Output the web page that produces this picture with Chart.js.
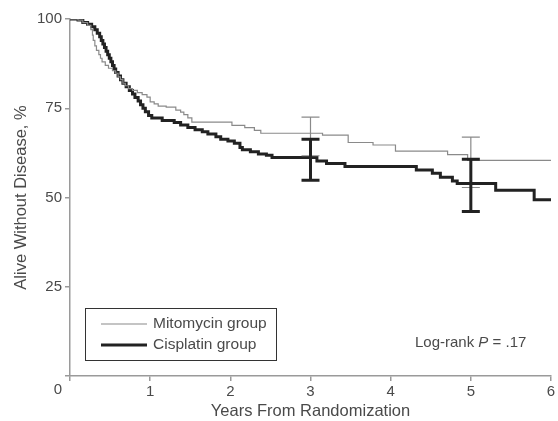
<!DOCTYPE html>
<html>
<head>
<meta charset="utf-8">
<script src="https://cdn.jsdelivr.net/npm/chart.js@4"></script>
<style>
  body { margin: 0; background: #fff; }
  canvas { display: block; }
</style>
</head>
<body>
<canvas id="grafico" width="558" height="421"></canvas>
<script>
// Kaplan-Meier estimates: years from randomization and % alive without disease
const mitoTimes = [0, 0.1, 0.16, 0.22, 0.26, 0.28, 0.29, 0.31, 0.33, 0.36, 0.38, 0.40, 0.44, 0.48, 0.53,
  0.57, 0.60, 0.63, 0.66, 0.69, 0.73, 0.78, 0.84, 0.90, 0.96, 1.0, 1.05, 1.1, 1.2, 1.32,
  1.38, 1.42, 1.47, 1.52, 2.02, 2.18, 2.3, 2.38, 3.15, 3.47, 3.78, 4.06, 4.71, 4.96, 6.0];
const mitoSurv = [100, 99.7, 99, 98.2, 97, 95.5, 94, 92.5, 91.2, 90, 89, 88, 87, 86.2, 85.5,
  84.8, 83.8, 83, 82, 81.3, 80.5, 80, 79.4, 78.8, 78.1, 76.8, 76.2, 75.6, 75.3, 74.5,
  73.9, 73.2, 72.3, 71.1, 70.2, 69.6, 68.8, 68.0, 67.5, 65.4, 64.7, 63.0, 62.0, 60.4, 60.4];

const cisTimes = [0, 0.1, 0.16, 0.22, 0.27, 0.31, 0.34, 0.37, 0.39, 0.41, 0.43, 0.45, 0.47, 0.49, 0.51,
  0.53, 0.55, 0.57, 0.60, 0.63, 0.66, 0.70, 0.74, 0.78, 0.81, 0.85, 0.88, 0.91, 0.94, 0.98,
  1.02, 1.15, 1.3, 1.38, 1.47, 1.56, 1.65, 1.72, 1.82, 1.88, 1.97, 2.05, 2.12, 2.15, 2.25,
  2.35, 2.45, 2.52, 3.08, 3.2, 3.43, 4.32, 4.52, 4.62, 4.77, 4.83, 5.31, 5.79, 6.0];
const cisSurv = [100, 99.7, 99, 98.5, 97.8, 97, 96, 95, 94, 93, 92, 91, 90, 89, 88,
  87, 86, 85, 84, 83, 82, 81, 80, 79, 78, 77, 76, 75, 74, 73,
  72.3, 71.6, 71, 70.3, 69.6, 69, 68.4, 67.8, 67, 66.3, 65.8, 65.2, 64, 63.4, 62.8,
  62.2, 61.8, 61.2, 60.2, 59.5, 58.7, 57.7, 56.8, 55.7, 54.6, 53.9, 52, 49.4, 49.4];

// 95% confidence intervals at 3 and 5 years
const ciYears = [3, 5];
const mitoLower = [61.7, 52.8];
const mitoUpper = [72.5, 66.9];
const cisLower = [54.8, 46.1];
const cisUpper = [66.3, 60.7];

const xTicks = [0, 1, 2, 3, 4, 5, 6];
const yTicks = [0, 25, 50, 75, 100];

const textColor = '#4a4a4a';
const axisColor = '#9a9a9a';
const thinColor = '#8a8a8a';
const thickColor = '#222222';
const fontFamily = '"Liberation Sans", Arial, sans-serif';

Chart.defaults.font.family = fontFamily;
Chart.defaults.color = textColor;

function toPoints(times, values) {
  return times.map((t, i) => ({ x: t, y: values[i] }));
}

// Error bars, legend box and the log-rank note
const extras = {
  id: 'extras',
  afterDatasetsDraw(chart) {
    const { ctx, scales: { x, y } } = chart;
    const groups = [
      { lower: mitoLower, upper: mitoUpper, color: thinColor, width: 1.2 },
      { lower: cisLower, upper: cisUpper, color: thickColor, width: 3 }
    ];
    ctx.save();
    groups.forEach(g => {
      ctx.strokeStyle = g.color;
      ctx.lineWidth = g.width;
      ciYears.forEach((yr, i) => {
        const px = x.getPixelForValue(yr);
        const lo = y.getPixelForValue(g.lower[i]);
        const hi = y.getPixelForValue(g.upper[i]);
        ctx.beginPath();
        ctx.moveTo(px, lo);
        ctx.lineTo(px, hi);
        ctx.moveTo(px - 9, lo);
        ctx.lineTo(px + 9, lo);
        ctx.moveTo(px - 9, hi);
        ctx.lineTo(px + 9, hi);
        ctx.stroke();
      });
    });
    ctx.restore();
  },
  afterDraw(chart) {
    const { ctx, chartArea, scales: { x } } = chart;
    ctx.save();
    ctx.font = '15px ' + fontFamily;
    ctx.fillStyle = textColor;

    // origin label, pushed left of the y axis
    ctx.textAlign = 'center';
    ctx.textBaseline = 'middle';
    ctx.fillText('0', x.getPixelForValue(0) - 12, chartArea.bottom + 14);

    // legend
    const bx = chartArea.left + 15;
    const by = chartArea.bottom - 68;
    ctx.strokeStyle = '#333';
    ctx.lineWidth = 1;
    ctx.strokeRect(bx + 0.5, by + 0.5, 191, 52);
    ctx.textAlign = 'left';
    ctx.font = '15.5px ' + fontFamily;
    chart.data.datasets.forEach((ds, i) => {
      const ly = by + 16 + i * 21;
      ctx.strokeStyle = ds.borderColor;
      ctx.lineWidth = ds.borderWidth;
      ctx.beginPath();
      ctx.moveTo(bx + 16, ly);
      ctx.lineTo(bx + 62, ly);
      ctx.stroke();
      ctx.fillText(ds.label, bx + 68, ly);
    });

    // log-rank test
    let tx = chartArea.right - 136;
    const ty = chartArea.bottom - 33;
    const parts = [['Log-rank ', ''], ['P', 'italic '], [' = .17', '']];
    parts.forEach(([txt, style]) => {
      ctx.font = style + '15px ' + fontFamily;
      ctx.fillText(txt, tx, ty);
      tx += ctx.measureText(txt).width;
    });
    ctx.restore();
  }
};

const ctx = document.getElementById('grafico').getContext('2d');

new Chart(ctx, {
  type: 'line',
  data: {
    datasets: [
      {
        label: 'Mitomycin group',
        data: toPoints(mitoTimes, mitoSurv),
        borderColor: thinColor,
        borderWidth: 1.2,
        stepped: 'before',
        pointRadius: 0,
        fill: false
      },
      {
        label: 'Cisplatin group',
        data: toPoints(cisTimes, cisSurv),
        borderColor: thickColor,
        borderWidth: 3,
        stepped: 'before',
        pointRadius: 0,
        fill: false
      }
    ]
  },
  options: {
    responsive: false,
    animation: false,
    layout: { padding: { top: 19, right: 7, left: 0, bottom: 0 } },
    plugins: {
      legend: { display: false },
      tooltip: { enabled: false }
    },
    scales: {
      x: {
        type: 'linear',
        min: 0,
        max: 6,
        afterBuildTicks: scale => { scale.ticks = xTicks.map(v => ({ value: v })); },
        afterFit: scale => { scale.height = 45; },
        border: { color: axisColor, width: 1.5 },
        grid: { drawOnChartArea: false, color: axisColor, tickLength: 5, lineWidth: 1.5 },
        ticks: {
          font: { size: 15 },
          padding: 2,
          callback: v => (v === 0 ? '' : v)
        },
        title: {
          display: true,
          text: 'Years From Randomization',
          font: { size: 16.5 },
          padding: { top: 0, bottom: 0 }
        }
      },
      y: {
        min: 0,
        max: 100,
        afterBuildTicks: scale => { scale.ticks = yTicks.map(v => ({ value: v })); },
        afterFit: scale => { scale.width = 70; },
        border: { color: axisColor, width: 1.5 },
        grid: { drawOnChartArea: false, color: axisColor, tickLength: 5, lineWidth: 1.5 },
        ticks: {
          font: { size: 15 },
          padding: 3,
          callback: v => (v === 0 ? '' : v)
        },
        title: {
          display: true,
          text: 'Alive Without Disease, %',
          font: { size: 16.5 },
          padding: { top: 12, bottom: 0 }
        }
      }
    }
  },
  plugins: [extras]
});
</script>
</body>
</html>
